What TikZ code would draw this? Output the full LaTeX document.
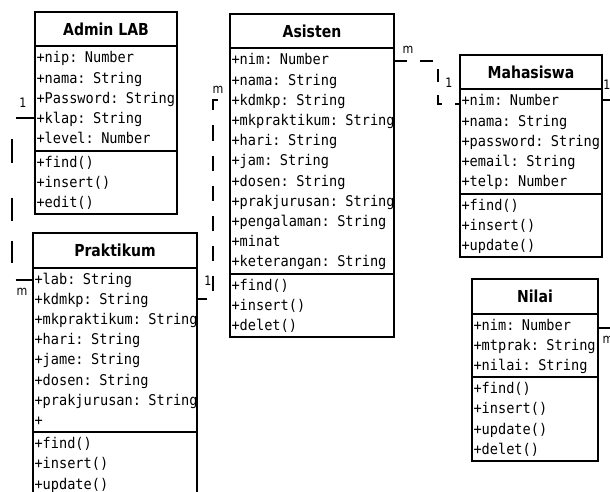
\documentclass[tikz,border=0pt]{standalone}
\usepackage{fontspec}
\setmainfont{DejaVu Sans}
\setmonofont[FakeStretch=0.92]{DejaVu Sans Mono}
\newfontfamily\headfont[FakeStretch=0.85]{DejaVu Sans}
\usepackage{tikz}
\usetikzlibrary{positioning}
\usetikzlibrary{calc}
\tikzstyle{classname} = [draw, line width=2pt, anchor=north west, inner sep=0pt, outer sep=0pt,
minimum height=34.5pt, font=\headfont\bfseries\fontsize{16.5}{19}\selectfont]
\tikzstyle{members} = [draw, line width=2pt, anchor=north west, inner xsep=1.5pt, outer sep=0pt,
inner ysep=1.5pt, align=left, font=\ttfamily\fontsize{14.8}{20.2}\selectfont]
\tikzstyle{line} = [draw, line width=2pt]
\newcommand{\attr}[1]{\rule[-5.2pt]{0pt}{20.2pt}\mbox{#1}}

\begin{document}
\begin{tikzpicture}[x=1pt, y=-1pt,
        mult/.style={inner sep=0pt, font=\headfont\fontsize{13}{15}\selectfont}]
        \useasboundingbox (0,0) rectangle (610,492);
        \clip (0,0) rectangle (610,492);
        %% Vertices
        \node [classname, minimum width=142pt] at (35,12) (admin) {Admin LAB};
        \node [members, text width=139pt] at (admin.south west) (adminAttr)
            {\attr{+nip: Number}\\\attr{+nama: String}\\\attr{+Password: String}\\\attr{+klap: String}\\\attr{+level: Number}};
        \node [members, text width=139pt] at (adminAttr.south west) (adminOps)
            {\attr{+find()}\\\attr{+insert()}\\\attr{+edit()}};
        \node [classname, minimum width=164pt] at (230,14) (asis) {Asisten};
        \node [members, text width=161pt] at (asis.south west) (asisAttr)
            {\attr{+nim: Number}\\\attr{+nama: String}\\\attr{+kdmkp: String}\\\attr{+mkpraktikum: String}\\\attr{+hari: String}\\\attr{+jam: String}\\\attr{+dosen: String}\\\attr{+prakjurusan: String}\\\attr{+pengalaman: String}\\\attr{+minat}\\\attr{+keterangan: String}};
        \node [members, text width=161pt] at (asisAttr.south west) (asisOps)
            {\attr{+find()}\\\attr{+insert()}\\\attr{+delet()}};
        \node [classname, minimum width=142pt] at (460,55) (maha) {Mahasiswa};
        \node [members, text width=139pt] at (maha.south west) (mahaAttr)
            {\attr{+nim: Number}\\\attr{+nama: String}\\\attr{+password: String}\\\attr{+email: String}\\\attr{+telp: Number}};
        \node [members, text width=139pt] at (mahaAttr.south west) (mahaOps)
            {\attr{+find()}\\\attr{+insert()}\\\attr{+update()}};
        \node [classname, minimum width=126pt] at (472,279) (nilai) {Nilai};
        \node [members, text width=123pt] at (nilai.south west) (nilaiAttr)
            {\attr{+nim: Number}\\\attr{+mtprak: String}\\\attr{+nilai: String}};
        \node [members, text width=123pt] at (nilaiAttr.south west) (nilaiOps)
            {\attr{+find()}\\\attr{+insert()}\\\attr{+update()}\\\attr{+delet()}};
        \node [classname, minimum width=164pt] at (33,233) (prak) {Praktikum};
        \node [members, text width=161pt] at (prak.south west) (prakAttr)
            {\attr{+lab: String}\\\attr{+kdmkp: String}\\\attr{+mkpraktikum: String}\\\attr{+hari: String}\\\attr{+jame: String}\\\attr{+dosen: String}\\\attr{+prakjurusan: String}\\\attr{+}};
        \node [members, text width=161pt] at (prakAttr.south west) (prakOps)
            {\attr{+find()}\\\attr{+insert()}\\\attr{+update()}};
        %% Arcs
        \path [line, dash pattern=on 19pt off 24pt on 24pt off 35pt on 23pt off 20pt on 22pt off 21pt on 18pt off 10pt]
            ([yshift=-72pt]adminAttr.north west) -- ++(-23,0) |- ([yshift=-12.5pt]prakAttr.north west);
        \path [line, dash pattern=on 15pt off 15pt, dash phase=18pt]
            ([yshift=-52pt]asisAttr.north west) -- ++(-17,0) |- ([yshift=-31.5pt]prakAttr.north east);
        \path [line, dash pattern=on 13pt off 13pt]
            ([yshift=-13pt]asisAttr.north east) -- ++(44,0) |- ([yshift=-15pt]mahaAttr.north west);
        \path [line] ([yshift=-10.5pt]mahaAttr.north east) -- ++(34,0) |- ([yshift=-14.5pt]nilaiAttr.north east);
        %% Multiplicities
        \node [mult] at (23,103) (adminOne) {1};
        \node [mult] at (22,292) (prakMany) {m};
        \node [mult] at (218,90) (asisMany) {m};
        \node [mult] at (208,281) (prakOne) {1};
        \node [mult] at (408,50) (asisManyR) {m};
        \node [mult] at (449,83) (mahaOne) {1};
        \node [mult] at (607,85) (mahaOneR) {1};
        \node [mult] at (608,340) (nilaiMany) {m};
    \end{tikzpicture}
\end{document}
